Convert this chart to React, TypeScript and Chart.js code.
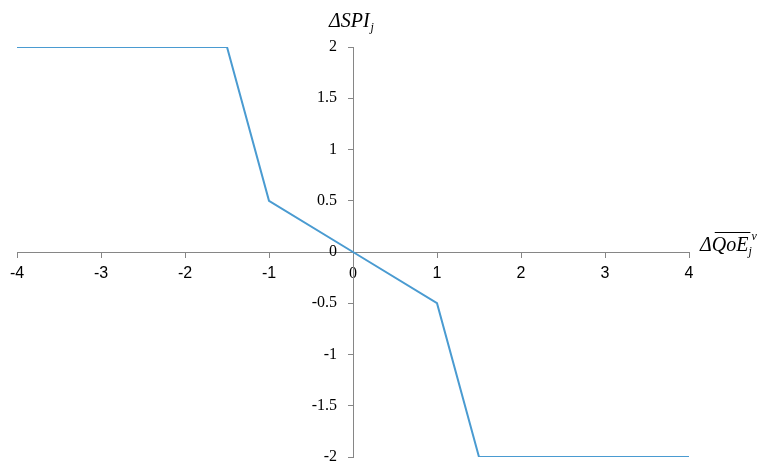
import React, { useEffect, useRef } from "react";
import { Chart, registerables } from "chart.js";
Chart.register(...registerables);

const xValues = [-4, -1.5, -1, 0, 1, 1.5, 4];
const yValues = [2, 2, 0.5, 0, -0.5, -2, -2];
const xMin = -4;
const xMax = 4;
const yMin = -2;
const yMax = 2;
const xStep = 1;
const yStep = 0.5;
const yTitleMain = "ΔSPI";
const yTitleSub = "j";
const xTitleDelta = "Δ";
const xTitleMain = "QoE";
const xTitleSub = "j";
const xTitleSup = "v";

const SERIF = '"Liberation Serif", "Times New Roman", serif';
const SANS = '"Liberation Sans", Arial, sans-serif';
const AXIS = "#868686";
const LINE = "#4a9bd1";

const titlePlugin = {
  id: "axisTitles",
  afterDraw(chart: any) {
    const ctx = chart.ctx as CanvasRenderingContext2D;
    const xs = chart.scales.x;
    const ys = chart.scales.y;
    ctx.save();
    ctx.fillStyle = "#000";
    ctx.textAlign = "left";
    ctx.textBaseline = "alphabetic";
    // y title
    const yx = xs.getPixelForValue(0) - 24;
    const yb = ys.top - 20;
    ctx.font = `italic 20px ${SERIF}`;
    ctx.fillText(yTitleMain, yx, yb);
    const w1 = ctx.measureText(yTitleMain).width;
    ctx.font = `italic 12px ${SERIF}`;
    ctx.fillText(yTitleSub, yx + w1 + 1, yb + 4);
    // x title
    const xx = xs.right + 11;
    const xb = ys.getPixelForValue(0) - 1;
    ctx.font = `italic 20px ${SERIF}`;
    ctx.fillText(xTitleDelta, xx, xb);
    const wd = ctx.measureText(xTitleDelta).width;
    ctx.fillText(xTitleMain, xx + wd, xb);
    const wm = ctx.measureText(xTitleMain).width;
    ctx.strokeStyle = "#000";
    ctx.lineWidth = 1;
    ctx.beginPath();
    ctx.moveTo(xx + wd + 3, xb - 18.5);
    ctx.lineTo(xx + wd + wm + 2, xb - 18.5);
    ctx.stroke();
    ctx.font = `italic 12px ${SERIF}`;
    ctx.fillText(xTitleSub, xx + wd + wm, xb + 4);
    ctx.fillText(xTitleSup, xx + wd + wm + 3, xb - 11);
    ctx.restore();
  },
};

const zeroX = (s: any) => {
  s.height = 0;
  s.paddingLeft = 0;
  s.paddingRight = 0;
  s.paddingTop = 0;
  s.paddingBottom = 0;
};
const zeroY = (s: any) => {
  s.width = 0;
  s.paddingLeft = 0;
  s.paddingRight = 0;
  s.paddingTop = 0;
  s.paddingBottom = 0;
};
const fmt = (v: any) => String(Number(v));

export default function App() {
  const ref = useRef<HTMLCanvasElement | null>(null);
  useEffect(() => {
    if (!ref.current) return;
    const data = xValues.map((x, i) => ({ x, y: yValues[i] }));
    const chart = new Chart(ref.current, {
      type: "line",
      data: {
        datasets: [
          {
            data,
            borderColor: LINE,
            backgroundColor: LINE,
            borderWidth: 2,
            pointRadius: 0,
            tension: 0,
            fill: false,
          },
        ],
      },
      options: {
        animation: false,
        responsive: true,
        maintainAspectRatio: false,
        layout: { padding: { left: 17, right: 73, top: 47, bottom: 7 } },
        plugins: { legend: { display: false }, tooltip: { enabled: false } },
        scales: {
          x: {
            type: "linear",
            min: xMin,
            max: xMax,
            position: { y: 0 } as any,
            afterFit: zeroX,
            ticks: {
              stepSize: xStep,
              color: "#000",
              padding: 7,
              autoSkip: false,
              maxRotation: 0,
              callback: fmt,
              font: (c: any) =>
                c.tick && c.tick.value === 0
                  ? { family: SERIF, size: 16 }
                  : { family: SANS, size: 16 },
            },
            grid: { drawOnChartArea: false, drawTicks: true, tickLength: 5, color: AXIS },
            border: { display: true, color: AXIS, width: 1 },
          },
          y: {
            type: "linear",
            min: yMin,
            max: yMax,
            position: { x: 0 } as any,
            afterFit: zeroY,
            ticks: { stepSize: yStep, display: false },
            grid: { drawOnChartArea: false, drawTicks: true, tickLength: 5, color: AXIS },
            border: { display: true, color: AXIS, width: 1 },
          },
          yLabels: {
            type: "linear",
            axis: "y",
            min: yMin,
            max: yMax,
            position: { x: -0.19 } as any,
            afterFit: zeroY,
            ticks: {
              stepSize: yStep,
              color: "#000",
              autoSkip: false,
              callback: fmt,
              font: { family: SERIF, size: 16 },
            },
            grid: { display: false, drawOnChartArea: false, drawTicks: false },
            border: { display: false },
          },
        },
      } as any,
      plugins: [titlePlugin],
    });
    return () => chart.destroy();
  }, []);
  return (
    <div style={{ position: "absolute", left: 0, top: 0, width: 762, height: 464, background: "#fff" }}>
      <canvas ref={ref} />
    </div>
  );
}
